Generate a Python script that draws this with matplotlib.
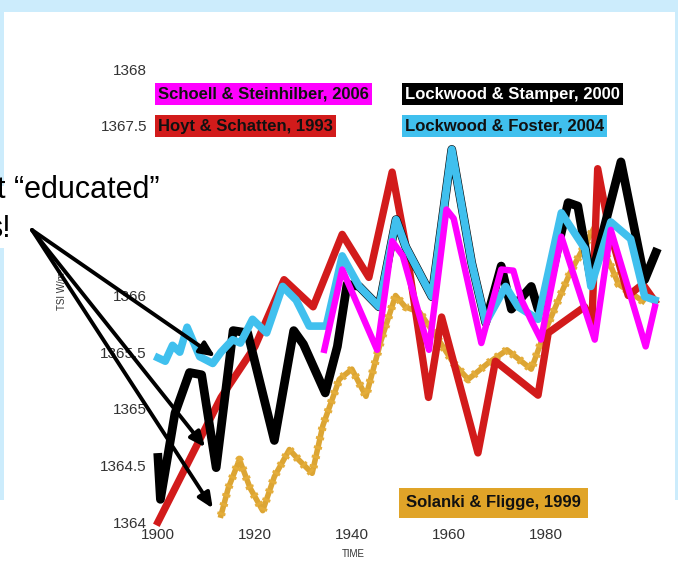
import numpy as np
import matplotlib
matplotlib.use("Agg")
import matplotlib.pyplot as plt
from matplotlib.patches import Rectangle

plt.rcParams['font.family'] = ['Liberation Sans', 'DejaVu Sans']

# --- data (year, TSI W/m2) ---
hoyt_years = [1900, 1913, 1920, 1926, 1932, 1938, 1943.5, 1948.3, 1951, 1955.8,
              1958.5, 1966, 1969.6, 1978.4, 1980.5, 1988, 1989.5, 1990.7, 1993,
              1997, 2000, 2002.5]
hoyt_tsi = [1364.0, 1365.1, 1365.55, 1366.14, 1365.9, 1366.54, 1366.16, 1367.09,
            1366.47, 1365.1, 1365.81, 1364.61, 1365.42, 1365.12, 1365.67, 1365.9,
            1365.75, 1367.12, 1366.6, 1366.0, 1366.1, 1365.95]

stamper_years = [1900, 1900.5, 1903.5, 1906.5, 1909, 1912, 1915.5, 1918.5, 1924,
                 1928, 1930, 1934.5, 1937, 1939, 1941.5, 1945.6, 1949.1, 1951.1,
                 1956.5, 1960.6, 1964.7, 1967.6, 1970.8, 1972.9, 1977, 1978.4,
                 1980, 1984.6, 1986.6, 1989.3, 1995.5, 2000.4, 2002.7]
stamper_tsi = [1364.57, 1364.2, 1364.96, 1365.32, 1365.3, 1364.48, 1365.69, 1365.67,
               1364.72, 1365.69, 1365.57, 1365.14, 1365.55, 1366.1, 1366.08, 1365.90,
               1366.67, 1366.43, 1365.99, 1367.29, 1366.29, 1365.76, 1366.26, 1365.88,
               1366.08, 1365.88, 1365.95, 1366.82, 1366.79, 1366.14, 1367.18, 1366.14,
               1366.38]

foster_years = [1900, 1901.5, 1903, 1904.5, 1906, 1908.6, 1911.3, 1913, 1915.4, 1917,
                1919.5, 1922.4, 1925.7, 1928.5, 1931.2, 1934.7, 1938, 1941.5, 1945.6,
                1949.1, 1951.1, 1956.5, 1960.6, 1964.7, 1967.6, 1971.7, 1974.3, 1978.4,
                1983.2, 1988.1, 1989.3, 1993.4, 1997.5, 2000.4, 2002.5]
foster_tsi = [1365.45, 1365.42, 1365.56, 1365.5, 1365.72, 1365.46, 1365.40, 1365.5,
              1365.61, 1365.58, 1365.79, 1365.67, 1366.08, 1365.96, 1365.73, 1365.73,
              1366.35, 1366.08, 1365.90, 1366.67, 1366.43, 1365.99, 1367.29, 1366.29,
              1365.76, 1366.08, 1365.90, 1365.79, 1366.73, 1366.41, 1366.08, 1366.65,
              1366.50, 1365.99, 1365.96]

schoell_years = [1934.3, 1938, 1945.2, 1948.3, 1950.5, 1955.9, 1959.5, 1961, 1966.7,
                 1970.8, 1973.3, 1975, 1977, 1979, 1983.2, 1990.1, 1993.4, 2000.6, 2002.5]
schoell_tsi = [1365.52, 1366.23, 1365.52, 1366.48, 1366.35, 1365.52, 1366.76, 1366.68,
               1365.58, 1366.23, 1366.22, 1365.96, 1365.78, 1365.61, 1366.52, 1365.61,
               1366.58, 1365.55, 1365.9]

solanki_years = [1913, 1914.5, 1916.8, 1919, 1921.6, 1924, 1927.1, 1929, 1931.8, 1934,
                 1937.4, 1940, 1942.9, 1946, 1949, 1951, 1954, 1958, 1961, 1964, 1968,
                 1972, 1977, 1980, 1985, 1990, 1995, 2000]
solanki_tsi = [1364.06, 1364.3, 1364.55, 1364.3, 1364.1, 1364.4, 1364.64, 1364.55,
               1364.43, 1364.85, 1365.26, 1365.35, 1365.11, 1365.6, 1366.0, 1365.9,
               1365.85, 1365.6, 1365.4, 1365.26, 1365.4, 1365.52, 1365.35, 1365.7,
               1366.2, 1366.6, 1366.1, 1365.95]

xticks = [1900, 1920, 1940, 1960, 1980]
yticks = [1364, 1364.5, 1365, 1365.5, 1366, 1367.5, 1368]

# arrow targets (year, TSI)
arrow_years = [1911.8, 1909.7, 1911.3]
arrow_tsi = [1365.46, 1364.66, 1364.12]

W, H = 678, 571
fig = plt.figure(figsize=(W / 100, H / 100), dpi=100)
fig.patch.set_facecolor('#ccecfc')


def fx(px):
    return px / W


def fy(py):
    return 1 - py / H


# white panels of the slide
fig.patches.append(Rectangle((fx(4), fy(500)), fx(671), 488 / H, transform=fig.transFigure,
                             facecolor='white', edgecolor='none', zorder=-10))
fig.patches.append(Rectangle((0, 0), 1, 71 / H, transform=fig.transFigure,
                             facecolor='white', edgecolor='none', zorder=-10))
fig.patches.append(Rectangle((0, fy(248)), fx(200), 62 / H, transform=fig.transFigure,
                             facecolor='white', edgecolor='none', zorder=-10))

# axes: 1898..2005 over px 148.3..667, 1364..1368.1 over px 522..57.7
ax = fig.add_axes([fx(148.3), fy(522), (667 - 148.3) / W, (522 - 57.7) / H])
ax.set_facecolor('none')
ax.set_xlim(1898, 2005)
ax.set_ylim(1364, 1368.1)

ax.plot(solanki_years, solanki_tsi, color='#dca533', lw=4.0, zorder=1,
        solid_joinstyle='round', clip_on=False)
ax.plot(solanki_years, solanki_tsi, color='#e4ad3a', lw=6.0, ls=(0, (0.35, 0.8)),
        zorder=1, clip_on=False)
ax.plot(hoyt_years, hoyt_tsi, color='#d21b1b', lw=5.3, zorder=2,
        solid_joinstyle='round', clip_on=False)
ax.plot(stamper_years, stamper_tsi, color='black', lw=6.3, zorder=3,
        solid_joinstyle='round', clip_on=False)
ax.plot(foster_years, foster_tsi, color='#40c0ee', lw=5.5, zorder=4,
        solid_joinstyle='round', clip_on=False)
ax.plot(schoell_years, schoell_tsi, color='#ff00ff', lw=4.6, zorder=5,
        solid_joinstyle='round', clip_on=False)

for s in ax.spines.values():
    s.set_visible(False)
ax.set_xticks(xticks)
ax.set_xticklabels([str(t) for t in xticks])
ax.set_yticks(yticks)
ax.set_yticklabels([('%g' % t) for t in yticks])
ax.tick_params(length=0, labelsize=11, labelcolor='#333333')
ax.tick_params(axis='x', pad=4)
ax.tick_params(axis='y', pad=1)

ax.set_ylabel('TSI W/m²', fontsize=7, color='#333333')
ax.yaxis.set_label_coords((67 - 148.3) / 518.7, 0.5)
ax.set_xlabel('TIME', fontsize=7, color='#333333')
ax.xaxis.set_label_coords((353 - 148.3) / 518.7, (522 - 549) / 464.3)

# legend labels as coloured boxes
legend_items = [
    ('Schoell & Steinhilber, 2006', '#ff00ff', '#111111', 158, 94, 0.2),
    ('Lockwood & Stamper, 2000', '#000000', 'white', 405, 94, 0.2),
    ('Hoyt & Schatten, 1993', '#d21b1b', '#111111', 158, 126, 0.2),
    ('Lockwood & Foster, 2004', '#40c0ee', '#111111', 405, 126, 0.2),
    ('Solanki & Fligge, 1999', '#e0a428', '#111111', 406, 503, 0.45),
]
for label, bg, fg, px, py, pad in legend_items:
    fig.text(fx(px), fy(py), label, fontsize=12, fontweight='bold', color=fg,
             ha='left', va='center',
             bbox=dict(boxstyle='square,pad=%g' % pad, facecolor=bg, edgecolor='none'))

# cut-off slide text
fig.text(fx(-3), fy(198), 't \u201ceducated\u201d', fontsize=22, color='black',
         ha='left', va='baseline')
fig.text(fx(-13), fy(237), 's!', fontsize=22, color='black', ha='left', va='baseline')

for yr, v in zip(arrow_years, arrow_tsi):
    ax.annotate('', xy=(yr, v), xycoords='data',
                xytext=(32, H - 230), textcoords='figure pixels',
                arrowprops=dict(arrowstyle='-|>,head_length=0.9,head_width=0.4',
                                lw=2.8, color='black', shrinkA=0, shrinkB=0),
                annotation_clip=False, zorder=10)

fig.savefig('out.png', dpi=100, facecolor=fig.get_facecolor())
